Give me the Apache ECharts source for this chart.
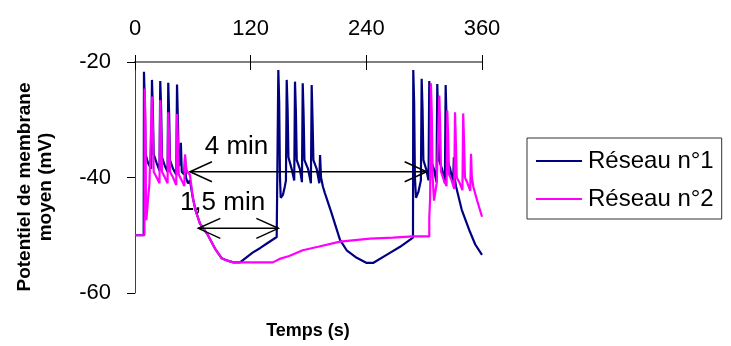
<!DOCTYPE html>
<html>
<head>
<meta charset="utf-8">
<script src="https://cdn.jsdelivr.net/npm/echarts@6/dist/echarts.min.js"></script>
<style>
  html, body { margin: 0; padding: 0; background: #fff; }
  #chart { width: 731px; height: 346px; }
</style>
</head>
<body>
<div id="chart"></div>
<script>
// time (s) / mean membrane potential (mV)
const reseau1 = [
  [0, -50], [9, -50], [9.3, -21.7], [10.2, -27], [11, -36], [13.5, -37.5], [16.8, -38.5],
  [17.6, -23.1], [18.5, -28], [19.4, -36], [22.5, -37.5], [25.4, -38.8],
  [26.2, -23.3], [27.1, -28], [28, -36.5], [31, -38], [33.8, -39],
  [34.5, -23.6], [35.4, -29], [36.3, -37], [39.5, -38.5], [42.8, -39.5],
  [43.6, -23.9], [44.5, -30], [45.4, -38], [47, -37.5], [47.6, -34], [48.5, -39],
  [51, -39.5], [51.9, -36.5], [52.8, -40], [55, -41], [57, -40.5], [60, -43.5],
  [63, -45.8], [67.4, -48], [74.7, -49.7], [83, -52.3], [90, -54], [96, -54.4],
  [102, -54.7], [109, -54.7], [115, -53.9], [122, -53], [130, -52.2], [138, -51.3],
  [147, -50.3], [148.4, -50.3],
  [148.7, -21.4], [149.6, -27], [150.4, -40], [151.2, -43.5], [153.5, -43], [155.5, -41.5], [156.6, -40.5],
  [157.4, -23.1], [158.3, -28], [159.2, -36.5], [162.5, -38.5], [165.2, -40.5],
  [166, -23.4], [166.9, -28.5], [167.8, -37], [171, -38.5], [173.2, -40.8],
  [174, -23.7], [174.9, -29], [175.8, -37], [179.5, -38.5], [182.5, -41],
  [183.3, -24], [184.2, -30], [185.1, -37], [188.5, -38.5], [191.2, -41],
  [192, -36.1], [193, -40], [195, -41.6], [197, -42.7], [204, -46.2], [212.7, -50.8],
  [219.6, -52.6], [230, -53.9], [240.4, -54.8], [247, -54.8], [261, -53.4], [275, -52],
  [288.4, -50.4],
  [288.7, -21.4], [289.6, -27], [290.4, -40], [291.5, -43.5], [294, -42.5], [296.6, -40.5],
  [297.4, -22.9], [298.3, -28], [299.2, -37], [302, -38.5], [304.5, -40.5],
  [305.3, -23.3], [306.2, -28.5], [307.1, -37], [310, -38.5], [312.8, -40.8],
  [313.6, -23.8], [314.5, -29], [315.4, -37], [318.5, -38.5], [321.5, -41],
  [322.3, -24], [323.2, -30], [324.1, -37], [327, -38.5], [330, -41],
  [330.8, -36.5], [331.6, -40], [333, -41.5], [339, -45.6], [347.5, -49.4],
  [353, -51.6], [360, -53.4]
];

const reseau2 = [
  [0, -50], [9.8, -50], [10, -24.6], [10.8, -30], [11.4, -45], [11.8, -47.4], [13, -47.4],
  [13.4, -44], [14.5, -43.8], [15, -41], [16.8, -41],
  [17.6, -26], [18.5, -31], [19.4, -39], [22.5, -40], [25.4, -41],
  [26.2, -26.6], [27.1, -32], [28, -39], [31, -40], [33.8, -41],
  [34.5, -28.7], [35.4, -33], [36.3, -39], [39.5, -40], [42.8, -41.3],
  [43.6, -29], [44.5, -34], [45.4, -39.5], [48.5, -40.5], [51.2, -41.5],
  [51.9, -36], [52.8, -38], [54, -39], [57, -39.5], [60, -43.5], [63, -45.8],
  [67.4, -48], [74.7, -49.7], [83, -52.3], [90, -54], [96, -54.4], [102, -54.7],
  [143, -54.7], [150, -54.1], [160, -53.6], [174, -52.6], [190, -52], [212.7, -51.1],
  [243.8, -50.6], [267.6, -50.4], [288.4, -50.2], [305.3, -50.2],
  [305.3, -47], [306.2, -43.5], [307, -23.7], [307.9, -29], [308.8, -40], [310.2, -44],
  [312, -44], [313, -41], [314.9, -41],
  [315.7, -25.8], [316.6, -31], [317.5, -39], [320.5, -40.5], [323.2, -41.5],
  [324, -28.4], [324.9, -33], [325.8, -39.5], [328.5, -40.5], [331.2, -42],
  [332, -28.7], [332.9, -34], [333.8, -40], [337, -41], [339.7, -42.2],
  [340.5, -28.9], [341.4, -34], [342.3, -40], [345, -41], [347.8, -42.3],
  [348.6, -35.9], [349.5, -40], [351, -41.6], [355, -44], [360, -46.8]
];

// double-headed arrows: start time, end time, level, label time, label level
const arrowLabels = ['4 min', '1,5 min'];
const arrowStart = [57, 65.7];
const arrowEnd = [302.6, 148.7];
const arrowLevel = [-39, -48.8];
const labelTime = [105.3, 90.8];
const labelLevel = [-34.7, -44.4];

const seriesNames = ['Réseau n°1', 'Réseau n°2'];
const xTicks = { min: 0, max: 360, interval: 120 };
const yTicks = { min: -60, max: -20, interval: 20 };

const font = "'Liberation Sans', Arial, sans-serif";
const chart = echarts.init(document.getElementById('chart'));

const arrowData = arrowLabels.map((_, i) => [arrowStart[i], arrowEnd[i], arrowLevel[i], labelTime[i], labelLevel[i]]);

const option = {
  animation: false,
  backgroundColor: '#fff',
  grid: { left: 135, right: 249, top: 62, bottom: 53 },
  xAxis: [{
    type: 'value',
    position: 'top',
    min: xTicks.min, max: xTicks.max, interval: xTicks.interval,
    axisLine: { show: true, lineStyle: { color: '#808080', width: 2 } },
    axisTick: { show: true, length: 7, lineStyle: { color: '#000', width: 1 } },
    axisLabel: { color: '#000', fontSize: 22, fontFamily: font, margin: 22 },
    splitLine: { show: false }
  }, {
    type: 'value',
    position: 'top',
    min: xTicks.min, max: xTicks.max, interval: xTicks.interval,
    axisLine: { show: false },
    axisTick: { show: true, inside: true, length: 8, lineStyle: { color: '#000', width: 1 } },
    axisLabel: { show: false },
    splitLine: { show: false }
  }],
  yAxis: {
    type: 'value',
    min: yTicks.min, max: yTicks.max, interval: yTicks.interval,
    axisLine: { show: true, lineStyle: { color: '#404040', width: 1 } },
    axisTick: { show: true, length: 8, lineStyle: { color: '#000', width: 1 } },
    axisLabel: { color: '#000', fontSize: 22, fontFamily: font, margin: 24 },
    splitLine: { show: false }
  },
  legend: {
    data: seriesNames,
    orient: 'vertical',
    left: 527,
    top: 138,
    padding: [11, 8, 8, 9],
    itemGap: 14,
    icon: 'rect',
    itemWidth: 46,
    itemHeight: 2,
    borderColor: '#333',
    borderWidth: 1,
    textStyle: { color: '#000', fontSize: 24, fontFamily: font, padding: [0, 0, 0, 1] }
  },
  graphic: [{
    type: 'text',
    x: 35, y: 187,
    rotation: Math.PI / 2,
    style: {
      text: 'Potentiel de membrane\nmoyen (mV)',
      font: 'bold 19px ' + font,
      fill: '#000',
      textAlign: 'center',
      textVerticalAlign: 'middle',
      lineHeight: 21
    }
  }, {
    type: 'text',
    x: 308, y: 331,
    style: {
      text: 'Temps (s)',
      font: 'bold 18px ' + font,
      fill: '#000',
      textAlign: 'center',
      textVerticalAlign: 'middle'
    }
  }],
  series: [{
    name: seriesNames[0],
    type: 'line',
    data: reseau1,
    symbol: 'none',
    lineStyle: { color: '#000080', width: 2.2 },
    itemStyle: { color: '#000080' }
  }, {
    name: seriesNames[1],
    type: 'line',
    data: reseau2,
    symbol: 'none',
    lineStyle: { color: '#ff00ff', width: 2.2 },
    itemStyle: { color: '#ff00ff' }
  }, {
    type: 'custom',
    data: arrowData,
    encode: { x: [0, 1, 3], y: [2, 4] },
    clip: false,
    z: 5,
    renderItem: (params, api) => {
      const a = api.coord([api.value(0), api.value(2)]);
      const b = api.coord([api.value(1), api.value(2)]);
      const c = api.coord([api.value(3), api.value(4)]);
      const stroke = { stroke: '#000', lineWidth: 1.5, fill: null };
      return {
        type: 'group',
        children: [{
          type: 'line',
          shape: { x1: a[0], y1: a[1], x2: b[0], y2: b[1] },
          style: stroke
        }, {
          type: 'polyline',
          shape: { points: [[a[0] + 22, a[1] - 10], a, [a[0] + 22, a[1] + 10]] },
          style: stroke
        }, {
          type: 'polyline',
          shape: { points: [[b[0] - 22, b[1] - 10], b, [b[0] - 22, b[1] + 10]] },
          style: stroke
        }, {
          type: 'text',
          x: c[0], y: c[1],
          style: {
            text: arrowLabels[params.dataIndex],
            font: '26px ' + font,
            fill: '#000',
            textAlign: 'center',
            textVerticalAlign: 'middle'
          }
        }]
      };
    }
  }]
};

chart.setOption(option);
</script>
</body>
</html>
